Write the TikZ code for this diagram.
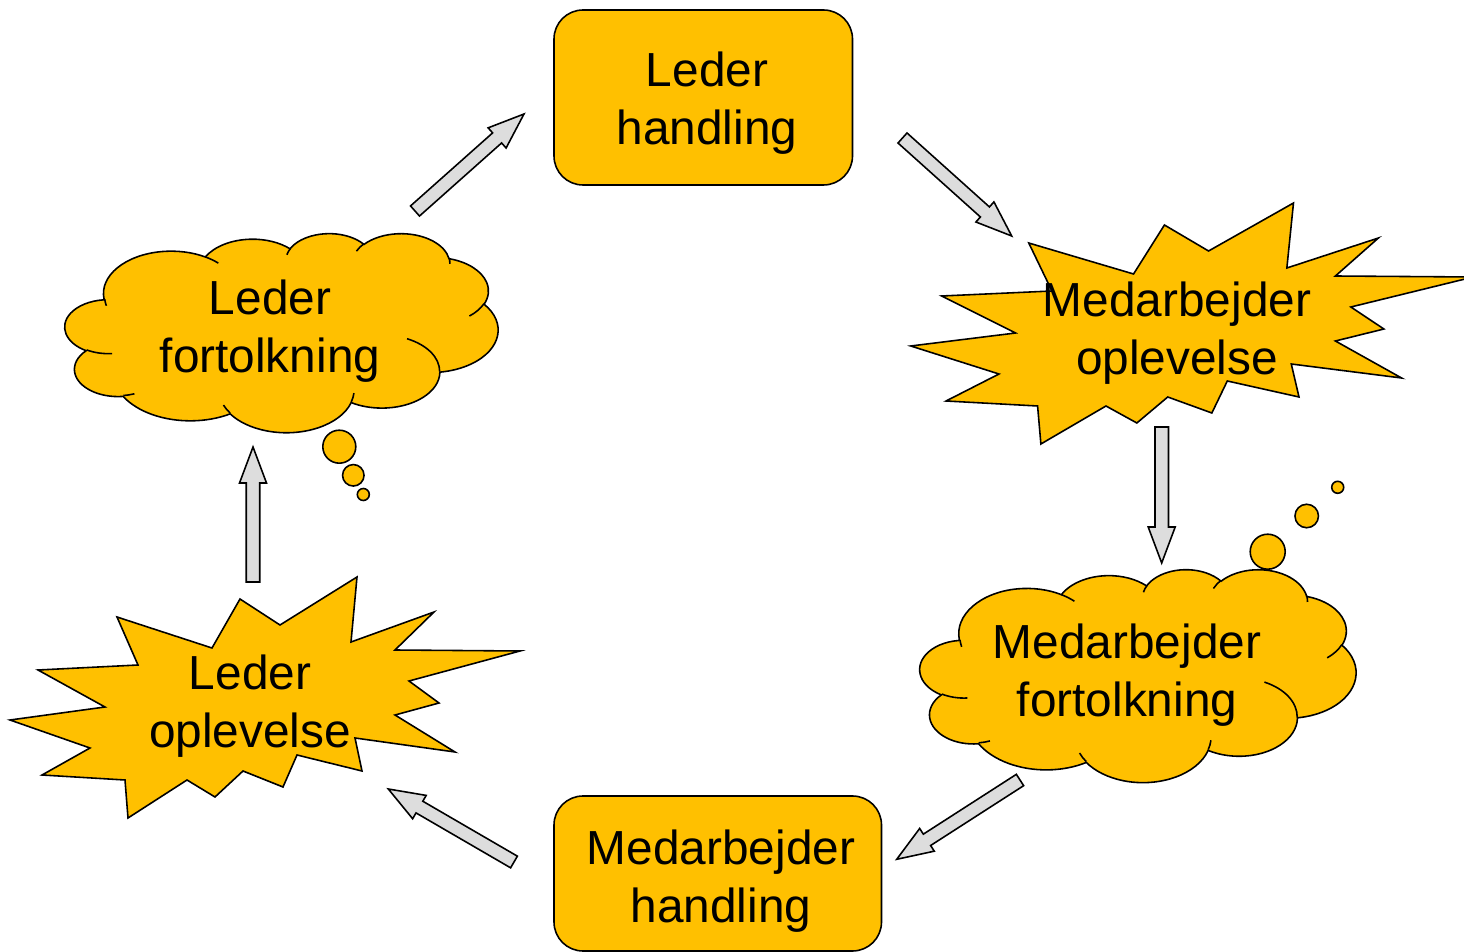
\documentclass[tikz,border=0pt]{standalone}
\usepackage{fontspec}
\setmainfont{Liberation Sans}
\usetikzlibrary{calc}

\definecolor{gul}{HTML}{FFC000}
\definecolor{pilgraa}{HTML}{DDDDDD}

\tikzset{
  gulform/.style={fill=gul,draw=black,line width=0.9pt},
  skylinje/.style={draw=black,line width=0.9pt},
  pil/.style={fill=pilgraa,draw=black,line width=0.9pt},
  tekst/.style={font=\fontsize{27.2}{33}\selectfont,align=center,inner sep=0pt}
}

% explosion round its centre
\newcommand\stjerne{%
  \filldraw[gulform] (-148,-81) -- (-53,-50) -- (-25,-99) -- (15,-73) -- (92,-121)
    -- (86,-56) -- (169,-86) -- (130,-48) -- (255,-47) -- (144,-17) -- (174,5)
    -- (130,17) -- (190,54) -- (90,40) -- (97,73) -- (32,57) -- (18,89)
    -- (-22,73) -- (-50,99) -- (-78,82) -- (-137,120) -- (-140,82) -- (-223,77)
    -- (-175,50) -- (-255,22) -- (-160,9) -- (-227,-28) -- (-127,-33) -- cycle;
}

% arc of the cloud: x radius, y radius, start angle, sweep (angles seen on the ellipse)
\newcommand\skyarc[4]{%
  \pgfextra{%
    \pgfmathparse{atan2(#1*sin(#3),#2*cos(#3))}\global\let\skyA\pgfmathresult
    \pgfmathparse{atan2(#1*sin(#3+#4),#2*cos(#3+#4))}\global\let\skyB\pgfmathresult
    \pgfmathparse{\skyB-\skyA}\global\let\skyD\pgfmathresult
    \pgfmathparse{\skyD+360*(\skyD<0)}\global\let\skyD\pgfmathresult
  }
  arc[start angle=\skyA,delta angle=\skyD,x radius=#1,y radius=#2]
}

% cloud outline on a 432 x 432 grid
\newcommand\skyform{%
  \filldraw[gulform] (39,143.7)
    \skyarc{67.53}{91.90}{-190.487}{123.781}
    \skyarc{53.33}{72.67}{-144.102}{89.945}
    \skyarc{43.65}{59.45}{-145.808}{99.723}
    \skyarc{48.57}{65.95}{-130.986}{117.242}
    \skyarc{53.33}{72.73}{-78.709}{109.027}
    \skyarc{67.75}{92.20}{-46.267}{130.269}
    \skyarc{57.85}{78.67}{0.625}{114.033}
    \skyarc{67.52}{92.15}{22.452}{115.173}
    \skyarc{77.20}{105.43}{66.243}{75.711}
    \skyarc{43.60}{59.18}{-274.942}{146.736}
    \skyarc{43.45}{59.45}{-246.829}{152.519}
    -- cycle;
  \draw[skylinje] (46.93,261.77) \skyarc{43.45}{59.45}{86.742}{26.430}
    (69.28,348.99) \skyarc{43.60}{59.18}{73.611}{11.448}
    (164.78,390.90) \skyarc{67.52}{92.15}{137.624}{14.081}
    (288.27,347.51) \skyarc{67.52}{92.15}{6.453}{15.998}
    (341.29,229.54) \skyarc{57.85}{78.67}{-70.292}{70.917}
    (417.98,153.54) \skyarc{53.33}{72.73}{30.318}{27.752}
    (383.24,54.26) \skyarc{48.57}{65.95}{-13.744}{14.859}
    (290.78,39.52) \skyarc{48.57}{65.95}{-149.182}{18.195}
    (221.41,47.20) \skyarc{43.65}{59.45}{-163.494}{17.686}
    (140.00,51.92) \skyarc{67.53}{91.90}{-66.707}{12.319}
    (41.27,157.89) \skyarc{67.53}{91.90}{162.036}{11.852};
}

% block arrow from #1 to #2
\newcommand\blokpil[2]{%
  \draw[pil] ($(#1)!0.135cm!90:(#2)$)
    -- ($(#2)!0.72cm!(#1)!0.135cm!90:(#2)$)
    -- ($(#2)!0.72cm!(#1)!0.27cm!90:(#2)$)
    -- (#2)
    -- ($(#2)!0.72cm!(#1)!0.27cm!-90:(#2)$)
    -- ($(#2)!0.72cm!(#1)!0.135cm!-90:(#2)$)
    -- ($(#1)!0.135cm!-90:(#2)$) -- cycle;
}

\begin{document}
\begin{tikzpicture}[x=0.02cm,y=-0.02cm]
  \useasboundingbox (0,0) rectangle (1464,952);

  % handlinger
  \draw[gulform,rounded corners=0.58cm] (554,10) rectangle (852.5,185);
  \draw[gulform,rounded corners=0.58cm] (554,796) rectangle (881.5,951);

  % oplevelser
  \begin{scope}[shift={(265,698)}]
    \stjerne
  \end{scope}
  \begin{scope}[shift={(1192,324)},xscale=1.103]
    \stjerne
  \end{scope}

  % fortolkninger
  \begin{scope}[shift={(65,233)},x=0.020046cm,y=-0.009213cm]
    \skyform
  \end{scope}
  \filldraw[gulform] (339.3,446.7) circle[radius=0.33cm];
  \filldraw[gulform] (353.3,475.3) circle[radius=0.215cm];
  \filldraw[gulform] (363.3,494.5) circle[radius=0.12cm];
  \begin{scope}[shift={(920,569)},x=0.020185cm,y=-0.009861cm]
    \skyform
  \end{scope}
  \filldraw[gulform] (1267.7,551.7) circle[radius=0.35cm];
  \filldraw[gulform] (1306.7,516) circle[radius=0.235cm];
  \filldraw[gulform] (1337.7,487.3) circle[radius=0.12cm];

  \node[tekst] (lh) at (707,103.5) {Leder\\handling};
  \node[tekst] (mo) at (1177,333) {Medarbejder\\oplevelse};
  \node[tekst] (mf) at (1127,675) {Medarbejder\\fortolkning};
  \node[tekst] (mh) at (721,881.5) {Medarbejder\\handling};
  \node[tekst] (lo) at (250,706.5) {Leder\\oplevelse};
  \node[tekst] (lf) at (270,331.5) {Leder\\fortolkning};

  % pile rundt i kredsen
  \foreach \i/\fx/\fy/\tx/\ty in {1/253/582/253/447, 2/415/211/524/114,
      3/902.5/138/1011.7/236, 4/1161.7/427/1161.7/563,
      5/1020/780/896.7/859.3, 6/514/862/388.3/789} {
    \coordinate (fra\i) at (\fx,\fy);
    \coordinate (til\i) at (\tx,\ty);
    \blokpil{fra\i}{til\i}
  }
\end{tikzpicture}
\end{document}
